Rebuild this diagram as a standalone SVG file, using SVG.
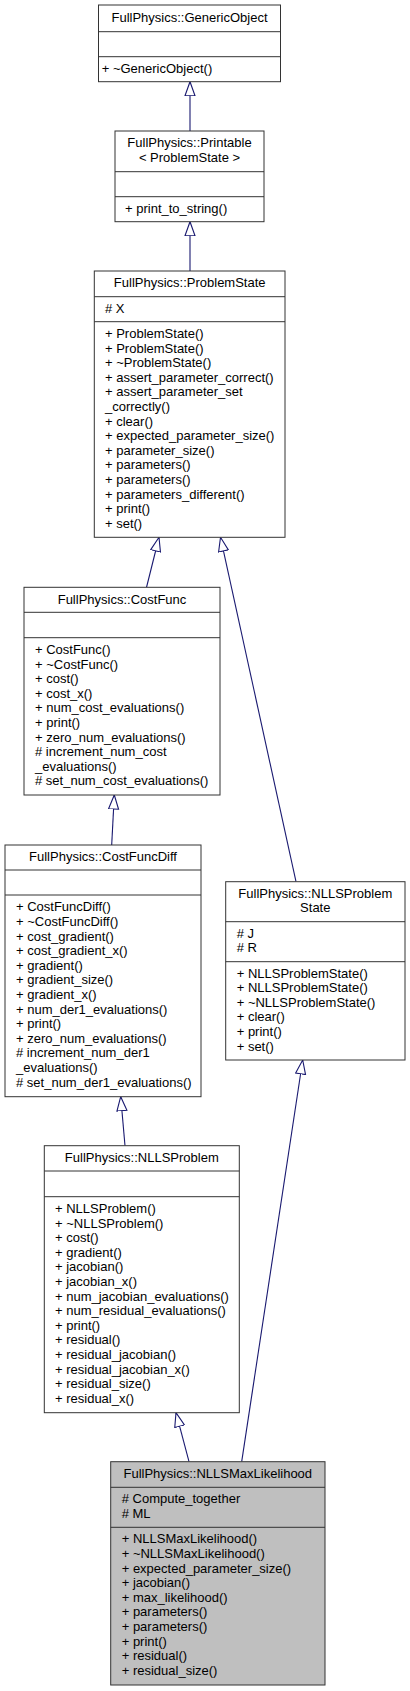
<svg xmlns="http://www.w3.org/2000/svg" width="410" height="1691" viewBox="0 0 410 1691">
<style>
.box{fill:#fff;stroke:#333;stroke-width:1}
.focus{fill:#bfbfbf;stroke:#333;stroke-width:1}
.sep{stroke:#333;stroke-width:1}
text{font-family:"Liberation Sans",Arial,sans-serif;font-size:13px;fill:#000}
.t{text-anchor:middle}
.e{fill:none;stroke:#191970;stroke-width:1.1}
</style>
<defs>
<marker id="tri" markerUnits="userSpaceOnUse" markerWidth="16" markerHeight="13" refX="14.5" refY="6" orient="auto" viewBox="0 0 16 13">
<path d="M0.5,1 L14.5,6 L0.5,11 Z" fill="#fff" stroke="#191970" stroke-width="1.1"/>
</marker>
</defs>
<g id="connectors">
<path class="e" d="M190,131 L190,81.7" marker-end="url(#tri)"/>
<path class="e" d="M190,271 L190,221.7" marker-end="url(#tri)"/>
<path class="e" d="M146.5,587.3 L159,537.3" marker-end="url(#tri)"/>
<path class="e" d="M296,881.7 L220.5,537.3" marker-end="url(#tri)"/>
<path class="e" d="M111.7,845 L114.3,795" marker-end="url(#tri)"/>
<path class="e" d="M125,1145.7 L120.7,1096.7" marker-end="url(#tri)"/>
<path class="e" d="M189,1461.7 L176,1412.7" marker-end="url(#tri)"/>
<path class="e" d="M241.7,1461.7 L302.7,1060" marker-end="url(#tri)"/>
</g>
<g id="GenericObject">
<rect class="box" x="98.5" y="5" width="182" height="76.7"/>
<line class="sep" x1="98.5" y1="31.7" x2="280.5" y2="31.7"/>
<line class="sep" x1="98.5" y1="56.7" x2="280.5" y2="56.7"/>
<text class="t" x="189.5" y="21.7">FullPhysics::GenericObject</text>
<text x="101.7" y="73.3">+ ~GenericObject()</text>
</g>
<g id="Printable">
<rect class="box" x="115" y="131" width="149" height="90.7"/>
<line class="sep" x1="115" y1="171.7" x2="264" y2="171.7"/>
<line class="sep" x1="115" y1="196.7" x2="264" y2="196.7"/>
<text class="t" x="189.5" y="147.3">FullPhysics::Printable</text>
<text class="t" x="189.5" y="161.9">&lt; ProblemState &gt;</text>
<text x="125" y="213">+ print_to_string()</text>
</g>
<g id="ProblemState">
<rect class="box" x="94.3" y="271" width="190.7" height="266.3"/>
<line class="sep" x1="94.3" y1="296.7" x2="285" y2="296.7"/>
<line class="sep" x1="94.3" y1="321.7" x2="285" y2="321.7"/>
<text class="t" x="189.7" y="287.3">FullPhysics::ProblemState</text>
<text x="105" y="313"># X</text>
<text x="105" y="338">+ ProblemState()</text>
<text x="105" y="352.6">+ ProblemState()</text>
<text x="105" y="367.2">+ ~ProblemState()</text>
<text x="105" y="381.8">+ assert_parameter_correct()</text>
<text x="105" y="396.4">+ assert_parameter_set</text>
<text x="105" y="411">_correctly()</text>
<text x="105" y="425.6">+ clear()</text>
<text x="105" y="440.2">+ expected_parameter_size()</text>
<text x="105" y="454.8">+ parameter_size()</text>
<text x="105" y="469.4">+ parameters()</text>
<text x="105" y="484">+ parameters()</text>
<text x="105" y="498.6">+ parameters_different()</text>
<text x="105" y="513.2">+ print()</text>
<text x="105" y="527.8">+ set()</text>
</g>
<g id="CostFunc">
<rect class="box" x="24" y="587.3" width="196" height="207.7"/>
<line class="sep" x1="24" y1="612.3" x2="220" y2="612.3"/>
<line class="sep" x1="24" y1="637.7" x2="220" y2="637.7"/>
<text class="t" x="122" y="603.6">FullPhysics::CostFunc</text>
<text x="35" y="654">+ CostFunc()</text>
<text x="35" y="668.6">+ ~CostFunc()</text>
<text x="35" y="683.2">+ cost()</text>
<text x="35" y="697.8">+ cost_x()</text>
<text x="35" y="712.4">+ num_cost_evaluations()</text>
<text x="35" y="727">+ print()</text>
<text x="35" y="741.6">+ zero_num_evaluations()</text>
<text x="35" y="756.2"># increment_num_cost</text>
<text x="35" y="770.8">_evaluations()</text>
<text x="35" y="785.4"># set_num_cost_evaluations()</text>
</g>
<g id="CostFuncDiff">
<rect class="box" x="5" y="845" width="196" height="251.7"/>
<line class="sep" x1="5" y1="870" x2="201" y2="870"/>
<line class="sep" x1="5" y1="895" x2="201" y2="895"/>
<text class="t" x="103" y="861">FullPhysics::CostFuncDiff</text>
<text x="16" y="911.3">+ CostFuncDiff()</text>
<text x="16" y="925.9">+ ~CostFuncDiff()</text>
<text x="16" y="940.5">+ cost_gradient()</text>
<text x="16" y="955.1">+ cost_gradient_x()</text>
<text x="16" y="969.7">+ gradient()</text>
<text x="16" y="984.3">+ gradient_size()</text>
<text x="16" y="998.9">+ gradient_x()</text>
<text x="16" y="1013.5">+ num_der1_evaluations()</text>
<text x="16" y="1028.1">+ print()</text>
<text x="16" y="1042.7">+ zero_num_evaluations()</text>
<text x="16" y="1057.3"># increment_num_der1</text>
<text x="16" y="1071.9">_evaluations()</text>
<text x="16" y="1086.5"># set_num_der1_evaluations()</text>
</g>
<g id="NLLSProblemState">
<rect class="box" x="225.7" y="881.7" width="179.3" height="178.3"/>
<line class="sep" x1="225.7" y1="921.7" x2="405" y2="921.7"/>
<line class="sep" x1="225.7" y1="961.7" x2="405" y2="961.7"/>
<text class="t" x="315.3" y="897.5">FullPhysics::NLLSProblem</text>
<text class="t" x="315.3" y="912.1">State</text>
<text x="236.7" y="937.5"># J</text>
<text x="236.7" y="952.1"># R</text>
<text x="236.7" y="977.5">+ NLLSProblemState()</text>
<text x="236.7" y="992.1">+ NLLSProblemState()</text>
<text x="236.7" y="1006.7">+ ~NLLSProblemState()</text>
<text x="236.7" y="1021.3">+ clear()</text>
<text x="236.7" y="1035.9">+ print()</text>
<text x="236.7" y="1050.5">+ set()</text>
</g>
<g id="NLLSProblem">
<rect class="box" x="44.3" y="1145.7" width="195" height="267"/>
<line class="sep" x1="44.3" y1="1171" x2="239.3" y2="1171"/>
<line class="sep" x1="44.3" y1="1196.7" x2="239.3" y2="1196.7"/>
<text class="t" x="141.8" y="1162">FullPhysics::NLLSProblem</text>
<text x="55" y="1213">+ NLLSProblem()</text>
<text x="55" y="1227.6">+ ~NLLSProblem()</text>
<text x="55" y="1242.2">+ cost()</text>
<text x="55" y="1256.8">+ gradient()</text>
<text x="55" y="1271.4">+ jacobian()</text>
<text x="55" y="1286">+ jacobian_x()</text>
<text x="55" y="1300.6">+ num_jacobian_evaluations()</text>
<text x="55" y="1315.2">+ num_residual_evaluations()</text>
<text x="55" y="1329.8">+ print()</text>
<text x="55" y="1344.4">+ residual()</text>
<text x="55" y="1359">+ residual_jacobian()</text>
<text x="55" y="1373.6">+ residual_jacobian_x()</text>
<text x="55" y="1388.2">+ residual_size()</text>
<text x="55" y="1402.8">+ residual_x()</text>
</g>
<g id="NLLSMaxLikelihood">
<rect class="focus" x="110.7" y="1461.7" width="214.3" height="223.3"/>
<line class="sep" x1="110.7" y1="1487.3" x2="325" y2="1487.3"/>
<line class="sep" x1="110.7" y1="1527.3" x2="325" y2="1527.3"/>
<text class="t" x="217.8" y="1478">FullPhysics::NLLSMaxLikelihood</text>
<text x="121.7" y="1503.3"># Compute_together</text>
<text x="121.7" y="1517.9"># ML</text>
<text x="121.7" y="1543.3">+ NLLSMaxLikelihood()</text>
<text x="121.7" y="1557.9">+ ~NLLSMaxLikelihood()</text>
<text x="121.7" y="1572.5">+ expected_parameter_size()</text>
<text x="121.7" y="1587.1">+ jacobian()</text>
<text x="121.7" y="1601.7">+ max_likelihood()</text>
<text x="121.7" y="1616.3">+ parameters()</text>
<text x="121.7" y="1630.9">+ parameters()</text>
<text x="121.7" y="1645.5">+ print()</text>
<text x="121.7" y="1660.1">+ residual()</text>
<text x="121.7" y="1674.7">+ residual_size()</text>
</g>
</svg>
